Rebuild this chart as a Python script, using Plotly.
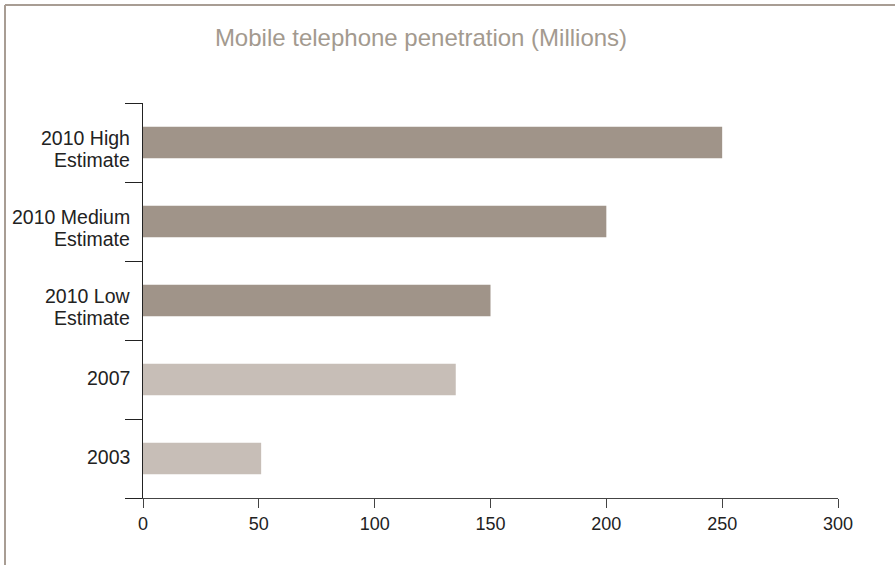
import plotly.graph_objects as go

categories = ["2003", "2007", "2010 Low<br>Estimate", "2010 Medium<br>Estimate", "2010 High<br>Estimate"]
values = [51, 135, 150, 200, 250]
bar_colors = ["#c7beb7", "#c7beb7", "#a09489", "#a09489", "#a09489"]
x_ticks = [0, 50, 100, 150, 200, 250, 300]
title_text = "Mobile telephone penetration (Millions)"

W, H = 895, 565
L, R, T, B = 143, 57, 103, 67
pw, ph = W - L - R, H - T - B

fig = go.Figure()
fig.add_trace(go.Bar(
    x=values, y=categories, orientation="h",
    marker=dict(color=bar_colors, line=dict(width=0)),
    width=0.4, hoverinfo="x",
))

# category labels as annotations (to match the original line placement)
label_x = (132 - L) / pw
for i, cat in enumerate(categories):
    lines = cat.split("<br>")
    shifts = [2] if len(lines) == 1 else [5, -17]
    for line, ys in zip(lines, shifts):
        fig.add_annotation(x=label_x, xref="paper", y=i, yref="y", text=line,
                           showarrow=False, xanchor="right", yanchor="middle", yshift=ys,
                           font=dict(size=19.5, color="#222"))

# frame (top and left edges)
bx = (5 - L) / pw
by = 1 + (T - 5) / ph
fig.add_shape(type="line", xref="paper", yref="paper", x0=bx, x1=1 + R / pw, y0=by, y1=by,
              line=dict(color="#a89d94", width=2))
fig.add_shape(type="line", xref="paper", yref="paper", x0=bx, x1=bx, y0=by, y1=-B / ph,
              line=dict(color="#a89d94", width=2))

fig.update_layout(
    width=W, height=H,
    margin=dict(l=L, r=R, t=T, b=B),
    paper_bgcolor="white", plot_bgcolor="white",
    font=dict(family="Liberation Sans, Arial, sans-serif", size=18, color="#222"),
    showlegend=False,
    title=dict(text=title_text, x=421 / W, xanchor="center", xref="container",
               y=1 - 38 / H, yanchor="middle", yref="container",
               font=dict(size=24, color="#a39a8f")),
    xaxis=dict(range=[0, 300], tickvals=x_ticks, ticktext=[str(v) for v in x_ticks],
               showgrid=False, zeroline=False, showline=True, linecolor="#444", linewidth=1,
               ticks="outside", ticklen=9, tickcolor="#444", tickwidth=1,
               tickfont=dict(size=18, color="#222"), fixedrange=True),
    yaxis=dict(type="category", categoryorder="array", categoryarray=categories,
               range=[-0.5, 4.5], tickson="boundaries", showticklabels=False,
               showgrid=False, zeroline=False, showline=True, linecolor="#222", linewidth=1,
               ticks="outside", ticklen=17, tickcolor="#222", tickwidth=1,
               fixedrange=True),
)

fig.write_html("out.html")
